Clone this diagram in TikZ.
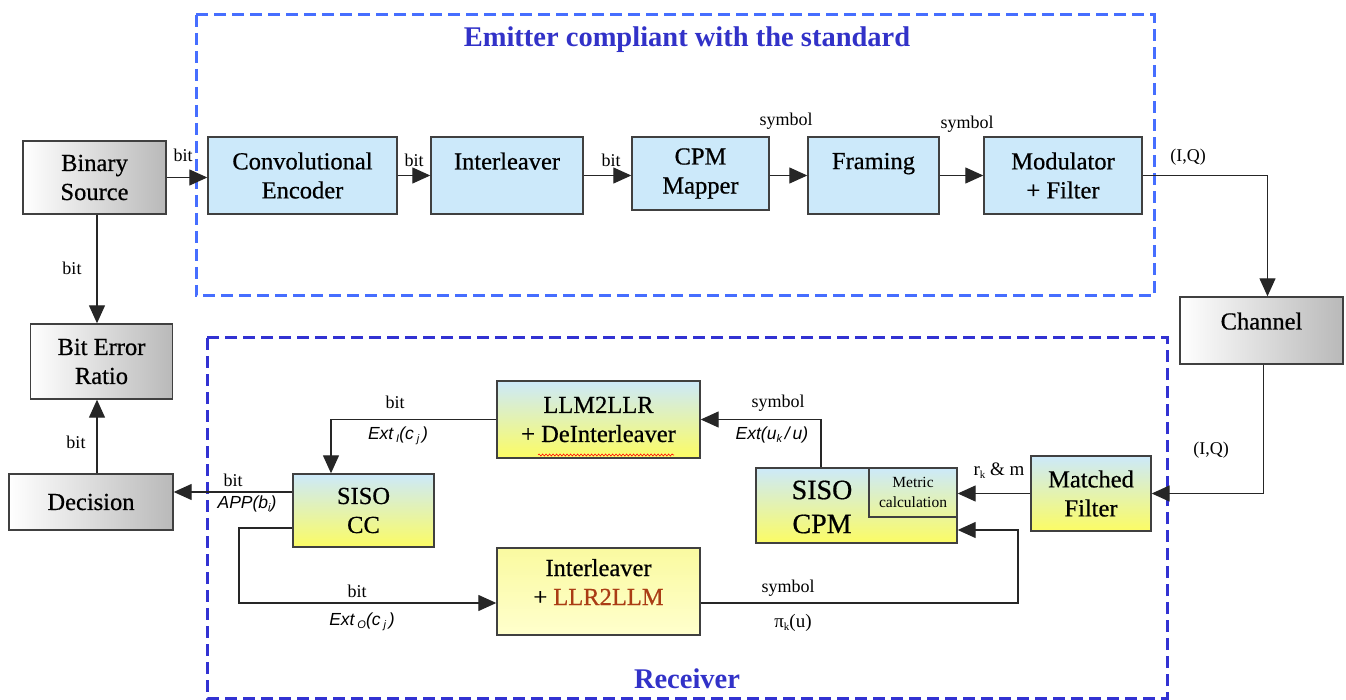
\documentclass[tikz,border=0pt]{standalone}
\usepackage{fontspec}
\setmainfont{Liberation Serif}
\setsansfont{Liberation Sans}
\newfontfamily\boxfont{Liberation Serif}[FakeBold=0.6]
\usetikzlibrary{arrows.meta,decorations.pathmorphing}
\definecolor{bluefill}{RGB}{204,233,250}
\definecolor{yelfill}{RGB}{252,252,100}
\definecolor{paley1}{RGB}{250,250,160}
\definecolor{paley2}{RGB}{255,255,205}
\definecolor{graybase}{RGB}{185,185,185}
\definecolor{emitblue}{RGB}{70,110,255}
\definecolor{recblue}{RGB}{50,50,210}
\definecolor{titleblue}{RGB}{50,50,200}
\definecolor{llrred}{RGB}{170,60,20}
\newcommand\lowsub[1]{\raisebox{-3pt}{\fontsize{11}{11}\selectfont #1}}
\begin{document}
\begin{tikzpicture}[x=1pt,y=-1pt,
  box/.style={draw=black!75, line width=1.4pt, align=center, inner sep=0pt, font=\boxfont\fontsize{24.5}{29}\selectfont},
  graybox/.style={box, left color=white, right color=graybase},
  bluebox/.style={box, fill=bluefill},
  gradbox/.style={box, top color=bluefill, bottom color=yelfill},
  paleybox/.style={box, top color=paley1, bottom color=paley2},
  conn/.style={draw=black!85, line width=1.3pt},
  arr/.style={conn, -{Triangle[length=18pt,width=16pt]}},
  lbl/.style={font=\fontsize{18}{18}\selectfont, inner sep=0pt},
  extlbl/.style={font=\fontsize{17.5}{17.5}\selectfont\sffamily\itshape, inner sep=0pt},
  emitframe/.style={draw=emitblue, line width=3pt, dash pattern=on 12pt off 6pt},
  recframe/.style={draw=recblue, line width=3pt, dash pattern=on 12pt off 6pt},
  titlelbl/.style={font=\fontsize{28.5}{30}\selectfont\bfseries, text=titleblue, inner sep=0pt},
]
\useasboundingbox (0,0) rectangle (1346,700);
% frames
\draw[emitframe] (196,15) rectangle (1154,296);
\draw[recframe] (207,338) rectangle (1167,698);
\node[titlelbl] (t1) at (687,40) {Emitter compliant with the standard};
\node[titlelbl] (t2) at (687,679) {Receiver};
% emitter blocks
\node[graybox, minimum width=143, minimum height=73] (bs) at (94.5,177.5) {Binary\\Source};
\node[bluebox, minimum width=189, minimum height=77] (ce) at (302.5,175.5) {Convolutional\\Encoder};
\node[bluebox, minimum width=152, minimum height=77] (il) at (507,175.5) {Interleaver\\~};
\node[bluebox, minimum width=137, minimum height=73] (cpm) at (700.5,173.5) {CPM\\Mapper};
\node[bluebox, minimum width=131, minimum height=77] (fr) at (873.5,175.5) {Framing\\~};
\node[bluebox, minimum width=158, minimum height=77] (mod) at (1063,175.5) {Modulator\\+ Filter};
\node[graybox, minimum width=163, minimum height=67] (ch) at (1261.5,330.5) {Channel\\[-10pt]~};
\node[graybox, minimum width=142, minimum height=75] (ber) at (101.5,361.5) {Bit Error\\Ratio};
\node[graybox, minimum width=164, minimum height=56] (dec) at (91,502) {Decision};
% receiver blocks
\node[gradbox, minimum width=141, minimum height=73] (scc) at (363.5,510.5) {SISO\\CC};
\node[gradbox, minimum width=203, minimum height=77] (llm) at (598.5,419.5) {LLM2LLR\\+ DeInterleaver};
\draw[red, line width=0.6pt, decorate, decoration={snake, amplitude=1pt, segment length=3.5pt}] (538,455) -- (674,455);
\node[paleybox, minimum width=203, minimum height=87] (ill) at (598.5,591.5) {Interleaver\\+ \textcolor{llrred}{LLR2LLM}\\[-10pt]~};
\node[gradbox, minimum width=201, minimum height=75] (scpm) at (856.5,505.5) {};
\node[draw=black!75, line width=1.4pt, minimum width=88, minimum height=49, inner sep=0pt, align=center, font=\fontsize{15.5}{20}\selectfont] (metric) at (913,492.5) {Metric\\calculation};
\node[font=\boxfont\fontsize{28}{34}\selectfont, align=center, inner sep=0pt] (scpmtext) at (822,507) {SISO\\CPM};
\node[gradbox, minimum width=120, minimum height=75] (mf) at (1091,493.5) {Matched\\Filter};
% helper coordinates
\coordinate (xa) at (97,0);
\coordinate (xup) at (821,0);
\coordinate (xdn) at (331,0);
\coordinate (ydec) at (0,492);
\coordinate (cl) at (239,528);
\coordinate (yo) at (0,603);
\coordinate (cr) at (1018,530);
% emitter connectors
\draw[arr] (bs.east) -- (bs.east -| ce.west);
\draw[arr] (ce.east) -- (il.west);
\draw[arr] (il.east) -- (il.east -| cpm.west);
\draw[arr] (cpm.east |- fr.west) -- (fr.west);
\draw[arr] (fr.east) -- (mod.west);
\draw[arr] (mod.east) -| ([xshift=6pt]ch.north);
\draw[arr] ([xshift=2pt]ch.south) |- (mf.east);
% receiver connectors
\draw[arr] (mf.west) -- (mf.west -| scpm.east);
\draw[arr] (scpm.north -| xup) |- (llm.east);
\draw[arr] (llm.west) -| (scc.north -| xdn);
\draw[arr] (scc.west |- ydec) -- (dec.east |- ydec);
\draw[arr] (dec.north -| xa) -- (ber.south -| xa);
\draw[arr] (bs.south -| xa) -- (ber.north -| xa);
\draw[arr] (scc.west |- cl) -- (cl) |- (ill.west |- yo);
\draw[arr] (ill.east |- yo) -| (cr) -- (scpm.east |- cr);
% labels
\node[lbl] (l1) at (183,155) {bit};
\node[lbl] (l2) at (414,160) {bit};
\node[lbl] (l3) at (611,160) {bit};
\node[lbl] (l4) at (786,121) {symbol};
\node[lbl] (l5) at (967,124) {symbol};
\node[lbl] (l6) at (1188,157) {(I,Q)};
\node[lbl] (l7) at (1211,450) {(I,Q)};
\node[lbl] (l8) at (72,268) {bit};
\node[lbl] (l9) at (76,442) {bit};
\node[lbl] (l10) at (233,480) {bit};
\node[extlbl] (l11) at (247,504) {APP(b\lowsub{i})};
\node[lbl] (l12) at (395,402) {bit};
\node[extlbl] (l13) at (398,436) {Ext\,\lowsub{I}(c\,\lowsub{j}\,)};
\node[lbl] (l14) at (778,403) {symbol};
\node[extlbl] (l15) at (772,435) {Ext(u\lowsub{k}\,/\,u)};
\node[lbl, font=\fontsize{19}{19}\selectfont] (l16) at (999,471) {r\lowsub{k} \& m};
\node[lbl] (l17) at (357,591) {bit};
\node[extlbl] (l18) at (362,622) {Ext\,\lowsub{O}(c\,\lowsub{j}\,)};
\node[lbl] (l19) at (788,588) {symbol};
\node[lbl, font=\fontsize{19}{19}\selectfont] (l20) at (793,623) {π\lowsub{k}(u)};
\end{tikzpicture}
\end{document}
